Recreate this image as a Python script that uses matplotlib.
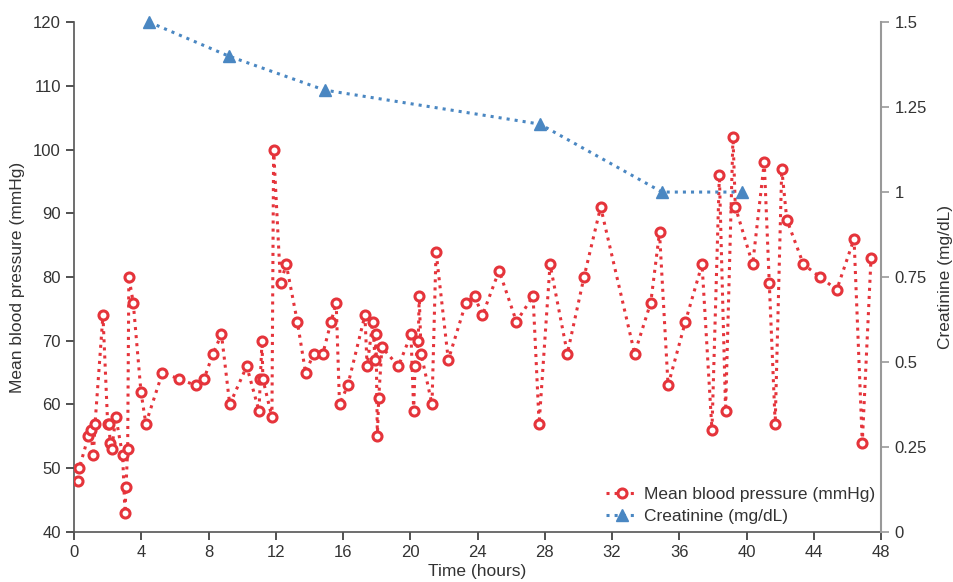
import matplotlib
matplotlib.use('Agg')
import matplotlib.pyplot as plt

plt.rcParams['font.family'] = ['Liberation Sans', 'DejaVu Sans']

# mean arterial pressure readings (hours since admission, mmHg)
map_hours = [0.26, 0.31, 0.85, 0.99, 1.15, 1.25, 1.72, 2.0, 2.09, 2.14,
             2.24, 2.49, 2.89, 3.03, 3.09, 3.19, 3.26, 3.52, 3.98, 4.27,
             5.26, 6.25, 7.24, 7.73, 8.27, 8.77, 9.26, 10.27, 11.0, 11.08,
             11.18, 11.23, 11.77, 11.87, 12.28, 12.62, 13.28, 13.77, 14.26, 14.8,
             15.29, 15.59, 15.79, 16.28, 17.3, 17.43, 17.77, 17.9, 17.96, 18.04,
             18.12, 18.31, 19.29, 20.04, 20.2, 20.28, 20.47, 20.53, 20.64, 21.29,
             21.53, 22.26, 23.31, 23.82, 24.29, 25.28, 26.31, 27.3, 27.66, 28.31,
             29.34, 30.33, 31.32, 33.34, 34.3, 34.82, 35.33, 36.36, 37.35, 37.94,
             38.38, 38.75, 39.19, 39.33, 40.36, 41.05, 41.35, 41.7, 42.09, 42.39,
             43.38, 44.37, 45.36, 46.39, 46.88, 47.4]
map_values = [48, 50, 55, 56, 52, 57, 74, 57, 57, 54,
              53, 58, 52, 43, 47, 53, 80, 76, 62, 57,
              65, 64, 63, 64, 68, 71, 60, 66, 59, 64,
              70, 64, 58, 100, 79, 82, 73, 65, 68, 68,
              73, 76, 60, 63, 74, 66, 73, 67, 71, 55,
              61, 69, 66, 71, 59, 66, 70, 77, 68, 60,
              84, 67, 76, 77, 74, 81, 73, 77, 57, 82,
              68, 80, 91, 68, 76, 87, 63, 73, 82, 56,
              96, 59, 102, 91, 82, 98, 79, 57, 97, 89,
              82, 80, 78, 86, 54, 83]

# serum creatinine (hours, mg/dL)
creat_hours = [4.47, 9.2, 14.9, 27.7, 34.97, 39.72]
creat_values = [1.5, 1.4, 1.3, 1.2, 1.0, 1.0]

red = '#e5343b'
blue = '#4a87c2'
text_color = '#333333'

fig = plt.figure(figsize=(9.54, 5.82), dpi=100)
ax = fig.add_axes([0.0776, 0.086, 0.846, 0.876])
ax2 = ax.twinx()

l1, = ax.plot(map_hours, map_values, linestyle=':', linewidth=2.2, color=red,
              marker='o', markersize=6.5, markerfacecolor='white',
              markeredgecolor=red, markeredgewidth=2.2,
              label='Mean blood pressure (mmHg)', zorder=3)
l2, = ax2.plot(creat_hours, creat_values, linestyle=':', linewidth=2.2, color=blue,
               marker='^', markersize=8.5, markerfacecolor=blue,
               markeredgecolor=blue, markeredgewidth=1,
               label='Creatinine (mg/dL)', zorder=3, clip_on=False)

ax.set_xlim(0, 48)
ax.set_ylim(40, 120)
ax2.set_ylim(0, 1.5)
ax.set_xticks(range(0, 49, 4))
ax.set_yticks(range(40, 121, 10))
ax2.set_yticks([0, 0.25, 0.5, 0.75, 1, 1.25, 1.5])
ax2.set_yticklabels(['0', '0.25', '0.5', '0.75', '1', '1.25', '1.5'])

for a in (ax, ax2):
    a.spines['top'].set_visible(False)
    a.tick_params(labelsize=12, colors=text_color, length=6, width=1.2)
ax.spines['right'].set_visible(False)
ax2.spines['left'].set_visible(False)
ax2.spines['bottom'].set_visible(False)
ax.spines['left'].set_color('#555555')
ax.spines['bottom'].set_color('#555555')
ax2.spines['right'].set_color('#999999')
ax2.tick_params(axis='y', colors='#999999', labelcolor=text_color)
for s in ('left', 'bottom'):
    ax.spines[s].set_linewidth(1.2)
ax2.spines['right'].set_linewidth(1.5)

ax.set_xlabel('Time (hours)', fontsize=12.5, color=text_color, labelpad=3)
ax.set_ylabel('Mean blood pressure (mmHg)', fontsize=12.5, color=text_color, labelpad=6)
ax2.set_ylabel('Creatinine (mg/dL)', fontsize=12.5, color=text_color, labelpad=8)

leg = ax.legend(handles=[l1, l2], loc='lower right', bbox_to_anchor=(1.008, -0.008),
                frameon=False, fontsize=12.5, handlelength=1.8,
                handletextpad=0.4, labelspacing=0.4, borderaxespad=0.3)
for t in leg.get_texts():
    t.set_color(text_color)

fig.savefig('out.png', dpi=100)
